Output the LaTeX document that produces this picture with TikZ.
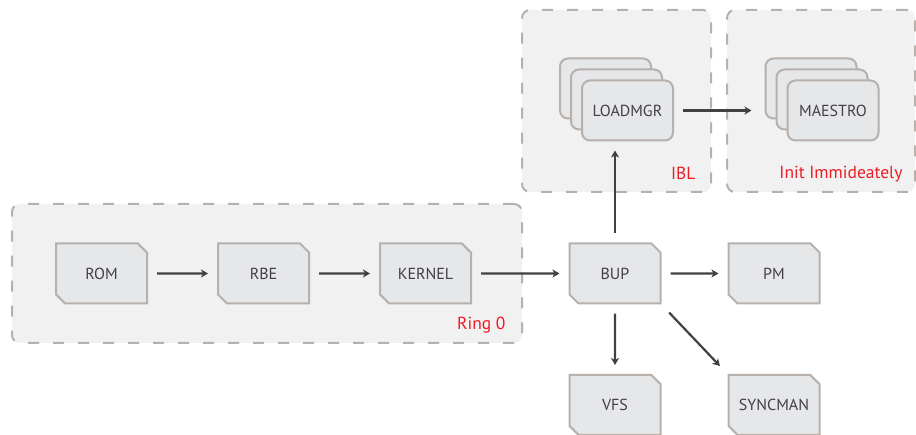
\documentclass[tikz,border=0pt]{standalone}
\usepackage{fontspec}
\setmainfont{PT Sans}
\usepackage{tikz}
\usetikzlibrary{arrows.meta, positioning, shapes.misc, shadows}
\definecolor{boxfill}{RGB}{230,231,233}
\definecolor{boxline}{RGB}{184,176,171}
\definecolor{zonefill}{RGB}{241,241,241}
\definecolor{zoneline}{RGB}{183,177,173}
\definecolor{flowgray}{RGB}{65,64,66}
\definecolor{tagred}{RGB}{237,28,36}

\begin{document}
\begin{tikzpicture}[x=1pt, y=-1pt,
    every node/.style={font=\fontsize{16}{18}\selectfont, text=flowgray},
    zone/.style={draw=zoneline, fill=zonefill, line width=2pt, dash pattern=on 11pt off 14pt,
        rounded corners=8pt, minimum height=182pt},
    proc/.style={chamfered rectangle, chamfered rectangle corners={north east, south west},
        chamfered rectangle xsep=9pt, draw=boxline, fill=boxfill, line width=2pt,
        minimum width=91pt, minimum height=60pt, inner sep=0pt},
    stackcopy/.style={copy shadow={shadow xshift=-#1, shadow yshift=#1,
        fill=boxfill, draw=boxline, line width=2pt}},
    stack/.style={rectangle, rounded corners=8pt, draw=boxline, fill=boxfill, line width=2pt,
        minimum width=91pt, minimum height=60pt, stackcopy=22pt, stackcopy=11pt},
    tag/.style={anchor=east, text=tagred, font=\fontsize{17.5}{20}\selectfont},
    flow/.style={-{Stealth[length=7pt, width=8pt, inset=2pt]}, draw=flowgray, line width=2.2pt,
        shorten <=9pt, shorten >=9pt}]
    \useasboundingbox (0,0) rectangle (916,435);

    % dashed zones
    \node[zone, minimum width=510pt, minimum height=139pt] (ring) at (267,273.5) {};
    \node[zone, minimum width=189pt] (ibl) at (616.5,101) {};
    \node[zone, minimum width=188pt] (init) at (821,101) {};
    \node[tag, xshift=-14pt, yshift=19pt] (ringtag) at (ring.south east) {Ring 0};
    \node[tag, xshift=-13pt, yshift=20pt] (ibltag) at (ibl.south east) {IBL};
    \node[tag, xshift=-10pt, yshift=19pt] (inittag) at (init.south east) {Init Immideately};

    % processes
    \node[proc] (ROM) at (101.5,273.5) {ROM};
    \node[proc] (RBE) at (263.5,273.5) {RBE};
    \node[proc] (KERNEL) at (425.5,273.5) {KERNEL};
    \node[proc] (BUP) at (615,273.5) {BUP};
    \node[proc] (PM) at (774,273.5) {PM};
    \node[proc] (VFS) at (615,405) {VFS};
    \node[proc] (SYNCMAN) at (774,405) {SYNCMAN};
    \node[stack] (LOADMGR) at (627.5,110.5) {LOADMGR};
    \node[stack] (MAESTRO) at (833,110.5) {MAESTRO};

    \foreach \from/\to in {ROM/RBE, RBE/KERNEL, KERNEL/BUP, BUP/PM, BUP/VFS}
        \draw[flow] (\from) -- (\to);
    \draw[flow, shorten <=11pt, shorten >=11pt] (BUP.south east) -- (SYNCMAN.north west);
    \draw[flow] (BUP) -- (BUP |- LOADMGR.south);
    \draw[flow, shorten >=35pt] (LOADMGR) -- (MAESTRO);
\end{tikzpicture}
\end{document}
